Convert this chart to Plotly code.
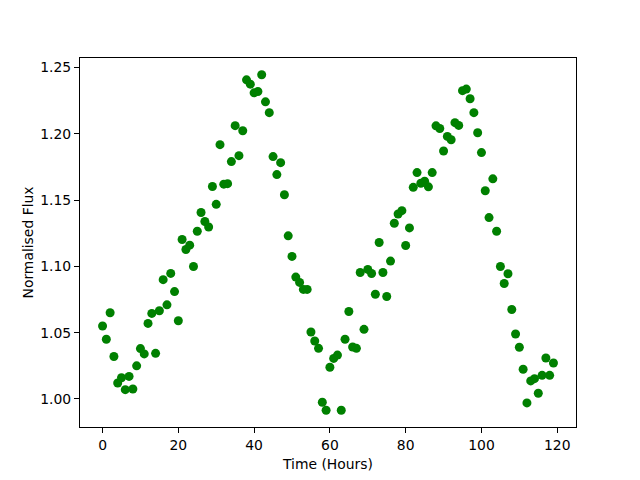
import plotly.graph_objects as go

hours = list(range(120))
flux = [
    1.055, 1.045, 1.065, 1.032, 1.012, 1.016, 1.007, 1.017, 1.0075, 1.025,
    1.038, 1.034, 1.057, 1.0645, 1.0344, 1.0665, 1.090, 1.071, 1.0947, 1.081,
    1.059, 1.1203, 1.1127, 1.116, 1.0999, 1.1265, 1.1406, 1.1338, 1.1297, 1.1602,
    1.1468, 1.1918, 1.162, 1.1624, 1.179, 1.2061, 1.1835, 1.2023, 1.2407, 1.2374,
    1.2309, 1.2319, 1.2445, 1.2241, 1.2159, 1.1828, 1.1692, 1.1782, 1.154, 1.123,
    1.1075, 1.0919, 1.0879, 1.0826, 1.0826, 1.0505, 1.0437, 1.0382, 0.9975, 0.9915,
    1.0239, 1.0306, 1.0331, 0.9915, 1.045, 1.066, 1.0392, 1.0382, 1.0954, 1.0525,
    1.0977, 1.0946, 1.079, 1.118, 1.0954, 1.0773, 1.104, 1.1325, 1.1395, 1.142,
    1.1157, 1.129, 1.1596, 1.1707, 1.1627, 1.1642, 1.160, 1.1707, 1.206, 1.204,
    1.187, 1.198, 1.1955, 1.2084, 1.2063, 1.2325, 1.2337, 1.2264, 1.2159, 1.2008,
    1.1858, 1.157, 1.1368, 1.166, 1.1265, 1.0999, 1.0871, 1.0944, 1.0675, 1.049,
    1.039, 1.0224, 0.997, 1.0136, 1.0153, 1.0043, 1.0178, 1.0309, 1.0178, 1.0271,
]
x_ticks = [0, 20, 40, 60, 80, 100, 120]
y_ticks = [1.00, 1.05, 1.10, 1.15, 1.20, 1.25]

def padded(vals, frac=0.05):
    lo, hi = min(vals), max(vals)
    d = (hi - lo) * frac
    return [lo - d, hi + d]

FONT = "DejaVu Sans"
FS = 13.9

fig = go.Figure(
    go.Scatter(
        x=hours, y=flux, mode="markers",
        marker=dict(color="#008000", size=9, line=dict(width=0)),
    )
)

axis_common = dict(
    showline=True, mirror=True, linecolor="black", linewidth=1,
    ticks="outside", ticklen=5, tickwidth=1, tickcolor="black",
    showgrid=False, zeroline=False, automargin=False,
    tickfont=dict(family=FONT, size=FS, color="black"),
)

fig.update_layout(
    width=640, height=480,
    paper_bgcolor="white", plot_bgcolor="white",
    margin=dict(l=80, r=64, t=58, b=53, pad=0),
    showlegend=False,
    font=dict(family=FONT, size=FS, color="black"),
    xaxis=dict(
        range=padded(hours), tickvals=x_ticks,
        title=dict(text="Time (Hours)", font=dict(family=FONT, size=FS), standoff=7),
        **axis_common,
    ),
    yaxis=dict(
        range=padded(flux), tickvals=y_ticks, tickformat=".2f",
        title=dict(text="Normalised Flux", font=dict(family=FONT, size=FS), standoff=3),
        **axis_common,
    ),
)

fig.write_html(
    "out.html",
    config={"displayModeBar": False},
    post_script="document.body.style.margin='0';document.body.style.padding='0';",
)
